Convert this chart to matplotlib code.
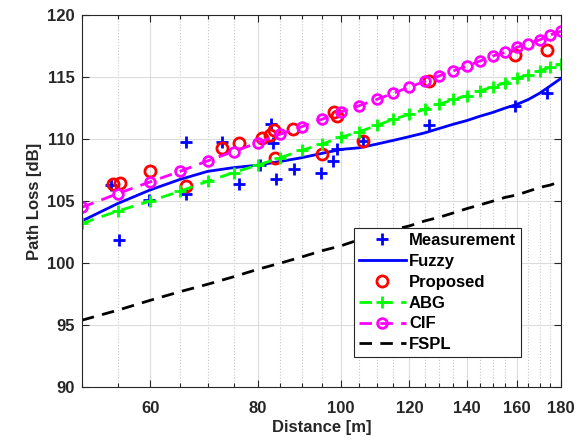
import numpy as np
import matplotlib
matplotlib.use('Agg')
import matplotlib.pyplot as plt
from matplotlib.ticker import FixedLocator, NullFormatter

plt.rcParams['font.family'] = ['Liberation Sans', 'DejaVu Sans']
plt.rcParams['font.weight'] = 'bold'

# measured samples (distance [m], path loss [dB])
meas_d = [54.1, 55.2, 59.8, 66.0, 66.0, 72.8, 76.0, 80.5, 82.8, 83.4, 83.9, 88.1, 94.8, 97.9, 98.9, 106.1, 126.5, 159.0, 173.6]
meas_pl = [106.3, 101.9, 105.1, 105.6, 109.8, 109.8, 106.35, 107.9, 111.2, 109.7, 106.8, 107.6, 107.3, 108.2, 109.2, 109.85, 111.1, 112.7, 113.7]

# proposed model at the measurement distances
prop_d = [54.3, 55.3, 60.0, 66.0, 72.8, 76.0, 81.0, 82.7, 83.6, 83.8, 88.0, 95.0, 98.0, 98.9, 106.1, 126.5, 159.0, 173.5]
prop_pl = [106.4, 106.5, 107.4, 106.2, 109.3, 109.7, 110.05, 110.3, 110.7, 108.5, 110.85, 108.8, 112.2, 111.9, 109.85, 114.7, 116.8, 117.2]

# model curves sampled every 5 m
dist = [50, 55, 60, 65, 70, 75, 80, 85, 90, 95, 100, 105, 110, 115, 120, 125, 130,
        135, 140, 145, 150, 155, 160, 165, 170, 175, 180]
fuzzy = [103.4, 104.8, 105.9, 106.75, 107.4, 107.7, 107.9, 108.2, 108.5, 108.85, 109.17, 109.3,
         109.6, 109.9, 110.2, 110.5, 110.86, 111.2, 111.5, 111.85, 112.15, 112.5, 112.8, 113.2,
         113.7, 114.3, 114.9]
abg = [103.2, 104.2, 105.0, 105.8, 106.6, 107.3, 107.9, 108.5, 109.1, 109.6, 110.15, 110.6,
       111.1, 111.6, 112.0, 112.4, 112.8, 113.2, 113.5, 113.9, 114.2, 114.55, 114.9, 115.2,
       115.5, 115.8, 116.05]
cif = [104.5, 105.6, 106.55, 107.4, 108.25, 109.0, 109.7, 110.4, 111.0, 111.6, 112.2, 112.7,
       113.2, 113.7, 114.2, 114.65, 115.1, 115.5, 115.9, 116.3, 116.7, 117.0, 117.4, 117.7,
       118.0, 118.4, 118.7]
fspl = [95.4, 96.2, 97.0, 97.7, 98.3, 98.9, 99.5, 100.0, 100.5, 101.0, 101.4, 101.9, 102.3,
        102.7, 103.0, 103.4, 103.7, 104.05, 104.4, 104.7, 105.0, 105.3, 105.5, 105.8, 106.1,
        106.3, 106.6]

xticks = [60, 80, 100, 120, 140, 160, 180]
yticks = [90, 95, 100, 105, 110, 115, 120]

fig = plt.figure(figsize=(5.85, 4.43), dpi=100)
ax = fig.add_axes([0.140, 0.126, 0.819, 0.840])

dash = (4.5, 3)
ax.plot(meas_d, meas_pl, '+', color='b', ms=8, mew=2, label='Measurement')
ax.plot(dist, fuzzy, '-', color='b', lw=2, label='Fuzzy')
ax.plot(prop_d, prop_pl, 'o', color='r', mfc='none', ms=8, mew=2, label='Proposed')
ax.plot(dist, abg, '--', color=(0, 1, 0), lw=2, dashes=dash, marker='+', ms=8, mew=2, label='ABG')
ax.plot(dist, cif, '--', color=(1, 0, 1), lw=2, dashes=dash, marker='o', mfc='none', ms=7, mew=2, label='CIF')
ax.plot(dist, fspl, '--', color='k', lw=2, dashes=dash, label='FSPL')

ax.set_xscale('log')
ax.set_xlim(50, 180)
ax.set_ylim(90, 120)
ax.xaxis.set_major_locator(FixedLocator(xticks))
ax.set_xticklabels([str(t) for t in xticks])
ax.xaxis.set_minor_locator(FixedLocator([d for d in dist if d not in xticks]))
ax.xaxis.set_minor_formatter(NullFormatter())
ax.set_yticks(yticks)

ax.grid(True, which='major', color='#dcdcdc', lw=0.8, ls='-')
ax.grid(True, which='minor', axis='x', color='#c8c8c8', lw=0.8, ls=':')
ax.set_axisbelow(True)

ax.tick_params(which='both', direction='in', top=True, right=True, colors='#262626',
               labelsize=12, width=0.8)
ax.tick_params(which='major', length=5)
ax.tick_params(which='minor', length=3)
ax.tick_params(axis='x', pad=10)
ax.tick_params(axis='y', pad=5)
for lbl in ax.get_xticklabels() + ax.get_yticklabels():
    lbl.set_fontweight('bold')
for s in ax.spines.values():
    s.set_color('#262626')
    s.set_linewidth(0.8)

ax.set_xlabel('Distance [m]', fontsize=12, fontweight='bold', color='#262626', labelpad=3)
ax.set_ylabel('Path Loss [dB]', fontsize=12, fontweight='bold', color='#262626')

leg = ax.legend(loc='lower right', bbox_to_anchor=(0.9165, 0.0806), fontsize=12,
                fancybox=False, edgecolor='#262626', framealpha=1, handlelength=2.8,
                labelspacing=0.35, borderpad=0.3, handletextpad=0.2, borderaxespad=0)
leg.get_frame().set_linewidth(0.8)
for t in leg.get_texts():
    t.set_fontweight('bold')

fig.savefig('out.png', dpi=100)
